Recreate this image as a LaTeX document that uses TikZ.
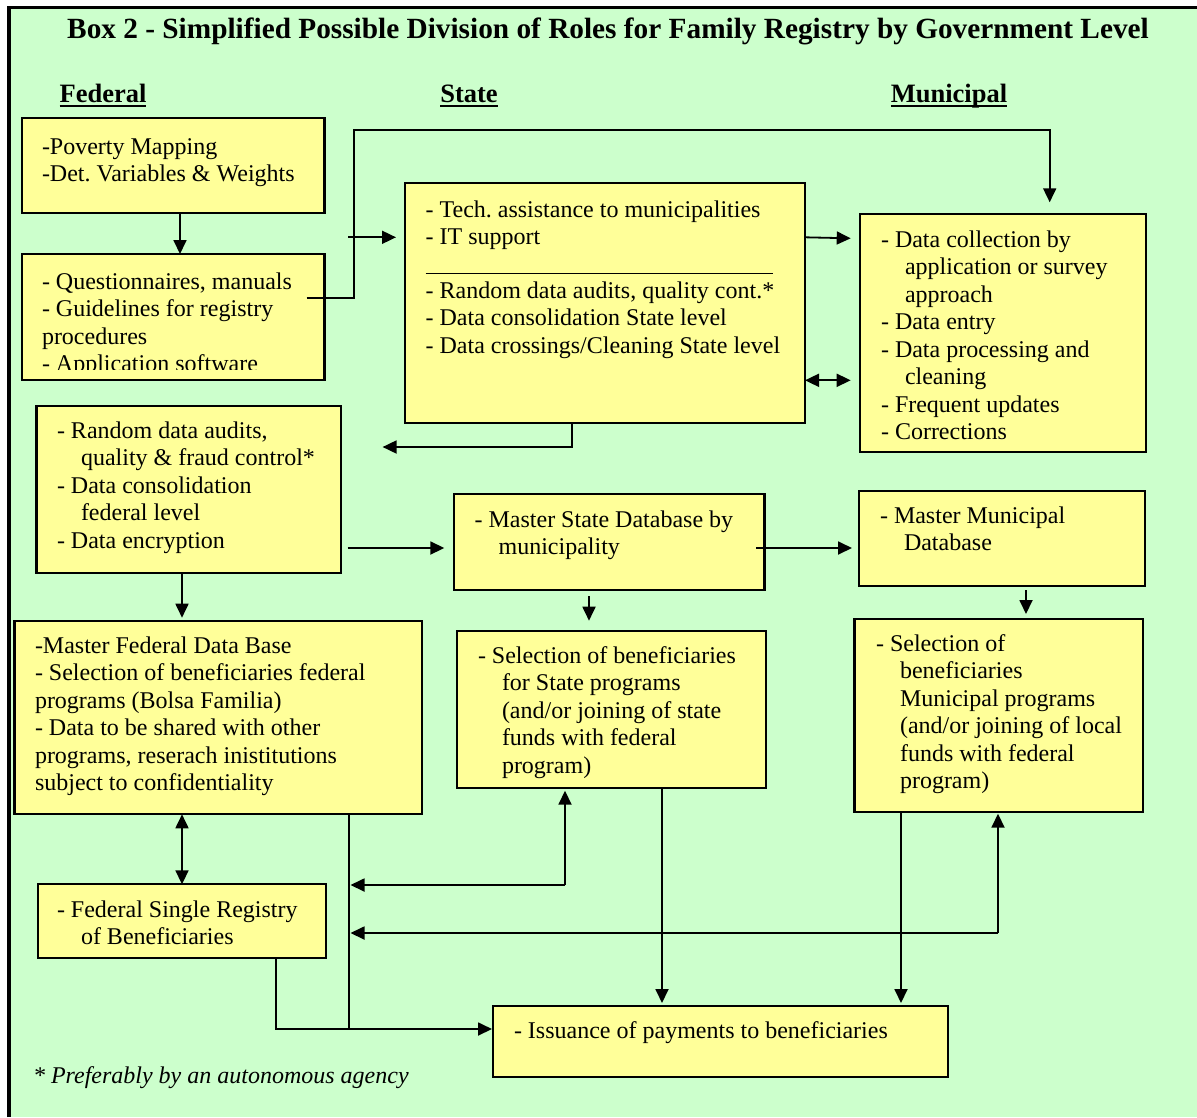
\documentclass[tikz,border=0pt]{standalone}
\usepackage{fontspec}
\setmainfont{Liberation Serif}
\usetikzlibrary{arrows.meta,calc}
\definecolor{bggreen}{HTML}{CCFFCC}
\definecolor{boxyellow}{HTML}{FFFF99}
\frenchspacing
\newcommand\Lns[1]{\vtop{\baselineskip=27.5pt\lineskiplimit=-100pt\lineskip=0pt\relax #1}}
\newcommand\ind{\hspace*{24pt}}
\newcommand\mybox[5]{\node[box, minimum width={#4-#2}, minimum height={#5-#3}] (#1) at (#2,#3) {};}
\tikzset{
  box/.style={draw=black, line width=2.2pt, fill=boxyellow, inner sep=0pt, outer sep=0pt, anchor=north west},
  txt/.style={inner sep=0pt, outer sep=0pt, anchor=base west, font=\fontsize{24}{27.5}\selectfont},
  hdr/.style={inner sep=0pt, outer sep=0pt, anchor=base, font=\fontsize{26.5}{30}\selectfont\bfseries},
  uline/.style={line width=2pt},
  arr/.style={line width=1.8pt, -{Triangle[length=14pt,width=13pt]}},
  darr/.style={line width=1.8pt, {Triangle[length=14pt,width=13pt]}-{Triangle[length=14pt,width=13pt]}},
  ln/.style={line width=1.8pt}
}
\begin{document}
\begin{tikzpicture}[x=1pt,y=-1pt]
\useasboundingbox (0,0) rectangle (1197,1117);
\fill[white] (0,0) rectangle (1197,1117);
\fill[bggreen] (9,7.5) rectangle (1197,1117);
\draw[line width=3.5pt] (9,1117) -- (9,7.5) -- (1197,7.5);

% title and headers
\node[inner sep=0pt, anchor=base, font=\fontsize{29.3}{33}\selectfont\bfseries] (title) at (608,38.5)
  {Box 2 - Simplified Possible Division of Roles for Family Registry by Government Level};
\node[hdr] (hfed) at (103,102) {Federal};
\node[hdr] (hsta) at (469,102) {State};
\node[hdr] (hmun) at (949,102) {Municipal};
\draw[uline] ([yshift=-4pt]hfed.base west) -- ([yshift=-4pt]hfed.base east);
\draw[uline] ([yshift=-4pt]hsta.base west) -- ([yshift=-4pt]hsta.base east);
\draw[uline] ([yshift=-4pt]hmun.base west) -- ([yshift=-4pt]hmun.base east);

% boxes
\mybox{b1}{21.8}{118.3}{324.5}{213.3}
\mybox{b2}{21.8}{254}{324.5}{380}
\mybox{st}{405}{183.3}{805}{422.7}
\mybox{mu}{859.7}{214.3}{1145.7}{452.3}
\mybox{fa}{36.4}{406}{340.6}{573.3}
\mybox{ms}{454.3}{494.3}{764.5}{590}
\mybox{mm}{859}{490.7}{1144.6}{586}
\mybox{mf}{14.5}{620.7}{421.7}{814.3}
\mybox{ss}{457.3}{630.7}{765.6}{787.7}
\mybox{smu}{854.4}{619.3}{1142.6}{811.7}
\mybox{fs}{38}{884.3}{326}{957.7}
\mybox{is}{493}{1006}{948}{1077}

% texts
\node[txt] (b1t) at (42,154) {\Lns{\hbox{-Poverty Mapping}\hbox{-Det. Variables \& Weights}}};
\begin{scope}
\clip (21.8,254) rectangle (324.5,369.5);
\node[txt] (b2t) at (42,289) {\Lns{\hbox{- Questionnaires, manuals}\hbox{- Guidelines for registry}\hbox{procedures}\hbox{- Application software}}};
\end{scope}
\node[txt] (stt1) at (425.6,217) {\Lns{\hbox{- Tech. assistance to municipalities}\hbox{- IT support}}};
\draw[line width=1pt] (425.6,273) -- (773,273);
\node[txt] (stt2) at (425.6,298) {\Lns{\hbox{- Random data audits, quality cont.*}\hbox{- Data consolidation State level}\hbox{- Data crossings/Cleaning State level}}};
\node[txt] (mut) at (881,247) {\Lns{\hbox{- Data collection by}\hbox{\ind application or survey}\hbox{\ind approach}\hbox{- Data entry}\hbox{- Data processing and}\hbox{\ind cleaning}\hbox{- Frequent updates}\hbox{- Corrections}}};
\node[txt] (fat) at (57,438) {\Lns{\hbox{- Random data audits,}\hbox{\ind quality \& fraud control*}\hbox{- Data consolidation}\hbox{\ind federal level}\hbox{- Data encryption}}};
\node[txt] (mst) at (474.6,527) {\Lns{\hbox{- Master State Database by}\hbox{\ind municipality}}};
\node[txt] (mmt) at (880,523) {\Lns{\hbox{- Master Municipal}\hbox{\ind Database}}};
\node[txt] (mft) at (35,653) {\Lns{\hbox{-Master Federal Data Base}\hbox{- Selection of beneficiaries federal}\hbox{programs (Bolsa Familia)}\hbox{- Data to be shared with other}\hbox{programs, reserach inistitutions}\hbox{subject to confidentiality}}};
\node[txt] (sst) at (478,663) {\Lns{\hbox{- Selection of beneficiaries}\hbox{\ind for State programs}\hbox{\ind (and/or joining of state}\hbox{\ind funds with federal}\hbox{\ind program)}}};
\node[txt] (smut) at (876,651) {\Lns{\hbox{- Selection of}\hbox{\ind beneficiaries}\hbox{\ind Municipal programs}\hbox{\ind (and/or joining of local}\hbox{\ind funds with federal}\hbox{\ind program)}}};
\node[txt] (fst) at (57,917) {\Lns{\hbox{- Federal Single Registry}\hbox{\ind of Beneficiaries}}};
\node[txt] (ist) at (514,1038) {- Issuance of payments to beneficiaries};
\node[txt, font=\fontsize{24}{27.5}\selectfont\itshape] (foot) at (33,1083) {* Preferably by an autonomous agency};

% connectors
\draw[arr] ([xshift=158.2pt]b1.south west) -- ([xshift=158.2pt]b2.north west);
\draw[arr] ([xshift=-18pt,yshift=-44pt]b2.north east) -| (354,130) -| ([xshift=190pt,yshift=12pt]mu.north west);
\draw[arr] ([xshift=-57pt,yshift=-54pt]st.north west) -- ([xshift=-9pt,yshift=-54pt]st.north west);
\draw[arr] ([yshift=-54pt]st.north east) -- ([xshift=-9pt,yshift=-24pt]mu.north west);
\draw[darr] ([yshift=-197pt]st.north east) -- ([xshift=-9pt,yshift=-166pt]mu.north west);
\draw[arr] ([xshift=167pt]st.south west) |- ([xshift=42pt,yshift=-41pt]fa.north east);
\draw[arr] ([xshift=7pt,yshift=-142pt]fa.north east) -- ([xshift=-10pt,yshift=-53.7pt]ms.north west);
\draw[arr] ([xshift=145.6pt]fa.south west) -- ([xshift=167.5pt,yshift=3pt]mf.north west);
\draw[arr] ([xshift=134.7pt,yshift=-6pt]ms.south west) -- ([xshift=131.7pt,yshift=10pt]ss.north west);
\draw[arr] ([xshift=-8.5pt,yshift=-53.7pt]ms.north east) -- ([xshift=-7pt,yshift=-57.3pt]mm.north west);
\draw[arr] ([xshift=167pt,yshift=-4pt]mm.south west) -- ([xshift=171.6pt,yshift=5.3pt]smu.north west);
\draw[darr] ([xshift=167.5pt]mf.south west) -- ([xshift=144pt]fs.north west);

\coordinate (j1) at (349,1029);
\coordinate (c1) at (565,885);
\coordinate (c2) at (998,933);
\draw[ln] ([xshift=-72.7pt]mf.south east) -- (j1);
\draw[arr] ([xshift=238pt]fs.south west) |- ([xshift=-1pt,yshift=-23pt]is.north west);
\draw[arr] (c1) -- ([xshift=107.7pt,yshift=-3pt]ss.south west);
\draw[arr] (c1) -- (350.5,885);
\draw[arr] (c2) -- ([xshift=143.6pt,yshift=-2pt]smu.south west);
\draw[arr] (c2) -- (350.5,933);
\draw[arr] ([xshift=204.7pt]ss.south west) -- ([xshift=169pt,yshift=3pt]is.north west);
\draw[arr] ([xshift=46.6pt]smu.south west) -- ([xshift=408pt,yshift=3pt]is.north west);
\end{tikzpicture}
\end{document}
